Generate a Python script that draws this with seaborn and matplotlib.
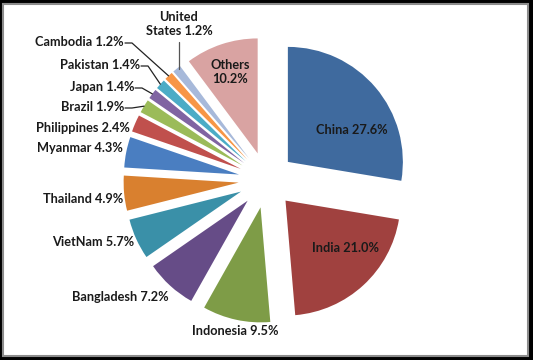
import numpy as np
import matplotlib
matplotlib.use("Agg")
import matplotlib.pyplot as plt
import seaborn as sns
from matplotlib.patches import Rectangle

countries = ["China", "India", "Indonesia", "Bangladesh", "VietNam", "Thailand",
             "Myanmar", "Philippines", "Brazil", "Japan", "Pakistan", "Cambodia",
             "United\nStates", "Others"]
shares = [27.6, 21.0, 9.5, 7.2, 5.7, 4.9, 4.3, 2.4, 1.9, 1.4, 1.4, 1.2, 1.2, 10.2]
colors = ["#3F6A9E", "#A0413F", "#7E9C47", "#664C87", "#3A90A8", "#D9802F",
          "#4A7EC1", "#C0504D", "#9BBB59", "#8064A2", "#4BACC6", "#F79646",
          "#A7B9DA", "#D9A3A2"]

# layout (pixel coordinates, y from top): label anchor, alignment, leader line
W, H = 533, 360
CX, CY, R, EXPL = 266.5, 180.0, 115.0, 28.0
label_layout = {
    "China": (352, 130, "center", False),
    "India": (345, 248, "center", False),
    "Indonesia": (235, 331, "center", False),
    "Bangladesh": (169, 297, "right", False),
    "VietNam": (134, 242, "right", False),
    "Thailand": (123, 199, "right", False),
    "Myanmar": (123, 148, "right", False),
    "Philippines": (130, 128, "right", False),
    "Brazil": (124, 107, "right", True),
    "Japan": (134, 87, "right", True),
    "Pakistan": (140, 65, "right", True),
    "Cambodia": (124, 42, "right", True),
    "United\nStates": (179, 24, "center", True),
    "Others": (230, 72, "center", False),
}

sns.set_theme(style="white")
plt.rcParams["font.family"] = ["Lato", "DejaVu Sans"]

fig = plt.figure(figsize=(W / 100, H / 100), dpi=100, facecolor="black")
fig.patches.append(Rectangle((3 / W, 4 / H), 525 / W, 352 / H, transform=fig.transFigure,
                             facecolor="white", edgecolor="#8C8C8C", linewidth=1.5,
                             zorder=-5))
ax = fig.add_axes([0, 0, 1, 1])
ax.set_zorder(5)
ax.patch.set_alpha(0)

wedges, _ = ax.pie(shares, colors=colors, startangle=90, counterclock=False,
                   radius=R, center=(CX, H - CY), explode=[EXPL] * len(shares),
                   wedgeprops=dict(linewidth=0), frame=True)
ax.set_xlim(0, W)
ax.set_ylim(0, H)
ax.set_aspect("equal")
ax.axis("off")

for name, val, w in zip(countries, shares, wedges):
    lx, ly, ha, leader = label_layout[name]
    if name == "United\nStates":
        txt = "United\nStates %.1f%%" % val
    elif name == "Others":
        txt = "Others\n%.1f%%" % val
    else:
        txt = "%s %.1f%%" % (name, val)
    ax.text(lx, H - ly, txt, ha=ha, va="center", fontsize=9.2, fontweight="bold",
            color="#1A1A1A", linespacing=1.15, multialignment="center")
    if leader:
        ang = np.deg2rad((w.theta1 + w.theta2) / 2)
        px = w.center[0] + R * np.cos(ang)
        py = w.center[1] + R * np.sin(ang)
        if name == "United\nStates":
            ax.plot([lx, lx], [H - 42, py], color="#555555", lw=0.9)
        else:
            ax.plot([lx + 1, lx + 8, px], [H - ly - 1, H - ly - 1, py],
                    color="#222222", lw=0.9)

fig.savefig("out.png", dpi=100, facecolor="black")
